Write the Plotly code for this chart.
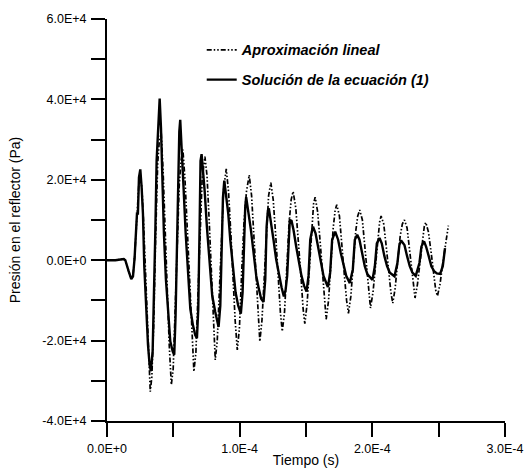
import plotly.graph_objects as go

# Time in microseconds, pressure in units of 1e4 Pa
sol_t_us = [0, 6.3, 12.6, 13.8, 16.3, 18.3, 19.6, 20.8, 22.6, 23.3, 24.1, 25.1, 26.1, 27.1, 28.1, 29.6, 30.9, 32.1, 33.1, 34.4,
            35.4, 36.4, 37.4, 38.7, 39.7, 40.7, 41.7, 42.9, 44.4, 45.9, 47.7, 49.5, 50.7, 51.7, 52.7, 53.5, 54.5, 55.2, 56.2,
            57.7, 59.3, 61.0, 62.8, 64.8, 66.5, 67.8, 68.8, 69.8, 70.5, 71.3, 72.3, 73.6, 75.3, 77.3, 79.3, 81.6, 84.1, 85.4,
            86.4, 87.4, 88.4, 89.9, 91.4, 92.9, 94.9, 96.9, 98.9, 100.9, 102.2, 103.2, 104.2, 104.9, 106.4, 108.5, 110.5,
            112.5, 114.5, 116.2, 118.0, 119.3, 120.3, 121.3, 122.0, 123.5, 125.5, 127.5, 129.6, 131.6, 133.3, 134.6, 135.8,
            137.1, 137.8, 139.1, 140.6, 142.6, 144.6, 146.6, 148.6, 150.4, 151.9, 153.2, 154.7, 155.7, 157.2, 159.2, 161.2,
            163.2, 165.2, 166.5, 168.2, 169.7, 172.0, 174.2, 176.2, 178.3, 180.3, 183.0, 185.3, 186.8, 188.6, 190.3, 192.3,
            194.3, 196.3, 198.3, 200.1, 201.9, 203.4, 205.4, 207.1, 209.1, 211.1, 213.2, 216.7, 218.9, 220.4, 221.7, 224.2,
            226.2, 228.2, 230.2, 232.7, 235.5, 237.0, 239.0, 240.5, 242.5, 244.5, 246.5, 248.6, 251.1, 253.1, 254.8]
sol_p_1e4 = [0, 0, 0.03, 0, -0.27, -0.47, -0.40, 0.05, 1.16, 1.16, 2.06, 2.26, 1.81, 1.16, -0.15, -1.29, -2.10, -2.60, -2.76, -2.27,
             -0.96, 0.67, 2.47, 3.28, 4.02, 3.28, 1.89, 0.67, -0.47, -1.29, -2.02, -2.27, -2.35, -1.37, 0.26, 2.14, 3.20, 3.49, 2.63,
             1.81, 0.67, -0.39, -1.21, -1.62, -1.86, -1.94, -1.21, 0.83, 2.47, 2.64, 2.30, 1.73, 0.83, -0.15, -0.88, -1.29, -1.66, -1.13,
             0.67, 1.55, 1.98, 1.55, 1.16, 0.51, -0.23, -0.80, -1.13, -1.33, -0.80, 0.67, 1.32, 1.57, 1.24, 0.75, 0.18,
             -0.39, -0.72, -0.96, -1.04, -0.47, 0.83, 1.24, 1.29, 1.00, 0.51, 0.02, -0.39, -0.68, -0.90, -0.75, -0.39,
             0.67, 1.00, 0.98, 0.75, 0.34, -0.07, -0.39, -0.64, -0.78, -0.39, 0.51, 0.76, 0.80, 0.67, 0.34, -0.07,
             -0.39, -0.56, -0.67, -0.31, 0.51, 0.71, 0.51, 0.18, -0.15, -0.39, -0.57, -0.23, 0.51, 0.63, 0.51, 0.18,
             -0.15, -0.35, -0.43, -0.49, -0.15, 0.42, 0.55, 0.42, 0.10, -0.15, -0.31, -0.40, -0.07, 0.38, 0.49, 0.38,
             0.10, -0.15, -0.31, -0.39, -0.07, 0.34, 0.47, 0.34, 0.10, -0.15, -0.27, -0.33, -0.34, -0.15, 0.30]

lin_t_us = [0, 6.3, 12.6, 13.8, 16.3, 18.3, 19.6, 20.8, 22.6, 24.1, 25.1, 26.3, 27.5, 29.0, 30.5, 31.7, 32.6, 33.8, 35.2, 36.6,
            38.2, 39.5, 40.9, 42.3, 43.8, 45.4, 46.9, 48.5, 49.9, 51.3, 52.9, 54.5, 55.9, 57.2, 58.8, 60.5, 62.2, 63.9, 65.5,
            67.0, 68.5, 70.1, 71.7, 73.8, 75.4, 77.0, 78.6, 80.1, 81.6, 83.1, 84.7, 86.3, 88.0, 89.9, 91.6, 93.3, 95.0, 96.6,
            98.2, 99.8, 101.5, 103.2, 105.1, 107.2, 109.0, 110.8, 112.6, 114.0, 115.2, 116.8, 118.6, 120.2, 121.8, 123.5,
            125.3, 127.2, 129.0, 130.7, 132.1, 133.8, 135.5, 137.2, 138.8, 140.3, 142.3, 144.3, 146.2, 147.8, 149.1, 150.8,
            152.6, 154.3, 155.7, 156.9, 158.8, 160.8, 162.6, 164.0, 165.2, 167.0, 168.8, 170.5, 172.0, 173.2, 175.2, 177.2,
            179.0, 180.6, 182.0, 183.8, 185.6, 187.4, 189.0, 190.5, 192.5, 194.5, 196.2, 197.6, 198.6, 200.5, 202.4, 204.3,
            205.5, 206.6, 208.6, 210.6, 212.4, 214.0, 215.4, 217.2, 219.2, 221.0, 222.6, 224.2, 226.2, 228.2, 230.0, 231.3,
            232.2, 234.0, 236.0, 237.8, 239.2, 240.3, 242.3, 244.3, 246.2, 247.8, 249.1, 251.0, 253.0, 255.0, 256.5, 257.3]
lin_p_1e4 = [0, 0, 0.03, 0, -0.27, -0.45, -0.38, 0.05, 1.10, 1.95, 2.10, 1.80, 1.00, -0.40, -1.80, -2.70, -3.27, -2.90, -1.60, 0.50,
             2.40, 3.00, 3.15, 2.20, 0.70, -0.80, -2.10, -3.10, -2.70, -1.30, 0.60, 1.90, 2.50, 2.75, 2.00, 0.70, -0.60, -1.90, -2.77,
             -2.30, -1.00, 0.80, 2.00, 2.58, 2.10, 1.00, -0.30, -1.60, -2.48, -2.00, -0.60, 0.80, 1.80, 2.27, 1.70, 0.70, -0.50, -1.50,
             -2.23, -1.70, -0.30, 0.90, 1.70, 2.12, 1.60, 0.60, -0.60, -1.50, -2.02, -1.50, -0.30, 0.90, 1.60, 1.93,
             1.50, 0.60, -0.40, -1.30, -1.77, -1.30, -0.20, 0.90, 1.50, 1.71, 1.30, 0.50, -0.40, -1.20, -1.58, -1.10,
             -0.10, 0.90, 1.40, 1.57, 1.20, 0.40, -0.40, -1.10, -1.47, -1.00, -0.10, 0.80, 1.25, 1.38, 1.10, 0.40,
             -0.40, -1.00, -1.32, -0.90, -0.10, 0.70, 1.10, 1.25, 1.00, 0.30, -0.40, -0.90, -1.19, -0.80, -0.10, 0.60,
             0.95, 1.10, 0.90, 0.30, -0.30, -0.80, -1.07, -0.70, 0.00, 0.60, 0.90, 1.00, 0.80, 0.20, -0.40, -0.75,
             -0.94, -0.60, 0.00, 0.50, 0.85, 0.94, 0.70, 0.20, -0.40, -0.75, -0.89, -0.60, -0.10, 0.40, 0.75, 0.86]

x_tick_vals = [0, 1e-4, 2e-4, 3e-4]
x_tick_text = ["0.0E+0", "1.0E-4", "2.0E-4", "3.0E-4"]
y_tick_vals = [-4e4, -2e4, 0, 2e4, 4e4, 6e4]
y_tick_text = ["-4.0E+4", "-2.0E+4", "0.0E+0", "2.0E+4", "4.0E+4", "6.0E+4"]

series_names = ["Aproximación lineal", "Solución de la ecuación (1)"]

lin_t = [v * 1e-6 for v in lin_t_us]
lin_p = [v * 1e4 for v in lin_p_1e4]
sol_t = [v * 1e-6 for v in sol_t_us]
sol_p = [v * 1e4 for v in sol_p_1e4]

fig = go.Figure()
fig.add_trace(go.Scatter(x=lin_t, y=lin_p, mode="lines", name="<b><i>" + series_names[0] + "</i></b>",
                         legendgroup="a",
                         line=dict(color="black", width=1.7, dash="5px,2px,1.5px,2px,1.5px,2px")))
fig.add_trace(go.Scatter(x=sol_t, y=sol_p, mode="lines", name="<b><i>" + series_names[1] + "</i></b>",
                         legendgroup="b",
                         line=dict(color="black", width=2.4)))

axis_font = dict(family="Liberation Sans, Arial", size=12.5, color="black")
title_font = dict(family="Liberation Sans, Arial", size=14, color="black")

fig.update_layout(
    width=527, height=470,
    margin=dict(l=107, r=22, t=19, b=49),
    paper_bgcolor="white", plot_bgcolor="white",
    font=dict(family="Liberation Sans, Arial", color="black"),
    showlegend=True,
    legend=dict(x=0.238, y=0.963, xanchor="left", yanchor="top", traceorder="grouped", tracegroupgap=8,
                font=dict(family="Liberation Sans, Arial", size=14.5, color="black"),
                bgcolor="rgba(0,0,0,0)"),
    xaxis=dict(range=[0, 3e-4], tickvals=x_tick_vals, ticktext=x_tick_text, automargin=False,
               showgrid=False, zeroline=False, showline=True, linecolor="black", linewidth=2,
               ticks="outside", ticklen=14, tickwidth=2, tickcolor="black", tickfont=axis_font,
               ticklabelstandoff=1,
               minor=dict(ticks="outside", ticklen=14, tickwidth=2, tickcolor="black", dtick=5e-5, showgrid=False),
               title=dict(text="Tiempo (s)", font=title_font, standoff=0)),
    yaxis=dict(range=[-4e4, 6e4], tickvals=y_tick_vals, ticktext=y_tick_text, automargin=False,
               showgrid=False, zeroline=False, showline=True, linecolor="black", linewidth=2,
               ticks="outside", ticklen=14, tickwidth=2, tickcolor="black", tickfont=axis_font,
               ticklabelstandoff=2,
               minor=dict(ticks="outside", ticklen=14, tickwidth=2, tickcolor="black", dtick=1e4, showgrid=False),
               title=dict(text="Presión en el reflector (Pa)", font=title_font, standoff=18)),
)

fig.write_html("out.html")
